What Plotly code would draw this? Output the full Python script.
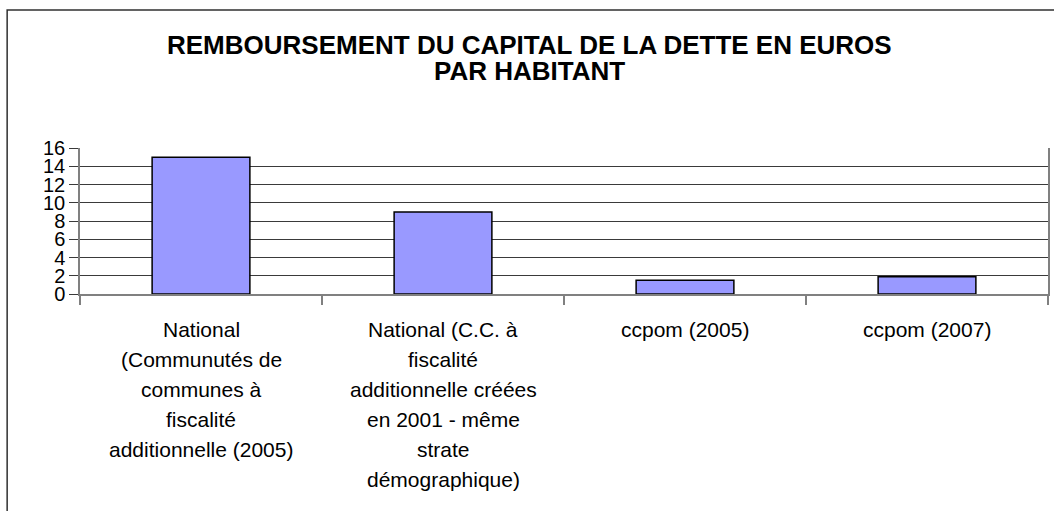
import plotly.graph_objects as go

# Remboursement du capital de la dette (euros par habitant)
category_lines = [
    ["National", "(Communutés de", "communes à", "fiscalité", "additionnelle (2005)"],
    ["National (C.C. à", "fiscalité", "additionnelle créées", "en 2001 - même", "strate", "démographique)"],
    ["ccpom (2005)"],
    ["ccpom (2007)"],
]
values = [15, 9, 1.5, 1.9]
title_lines = ["REMBOURSEMENT DU CAPITAL DE LA DETTE EN EUROS", "PAR HABITANT"]
y_ticks = [0, 2, 4, 6, 8, 10, 12, 14, 16]

categories = [" ".join(lines) for lines in category_lines]

W, H = 1054, 511
ML, MR, MT, MB = 80, 4, 148, 217
plot_w = W - ML - MR
plot_h = H - MT - MB

FONT = "Liberation Sans, Arial, sans-serif"
GRID = "#3a3a3a"
AXIS = "#808080"

fig = go.Figure(
    go.Bar(
        x=categories,
        y=values,
        marker=dict(color="#9999FF", line=dict(color="#000000", width=1.5)),
        hoverinfo="x+y",
    )
)

annotations = []
# multi-line category labels under each bar
for cat, lines in zip(categories, category_lines):
    for i, line in enumerate(lines):
        annotations.append(dict(
            x=cat, xref="x", y=0, yref="paper",
            text=line, showarrow=False,
            xanchor="center", yanchor="middle",
            yshift=-35 - 30 * i,
            font=dict(family=FONT, size=21, color="#000000"),
        ))

# two-line bold title
title_x = (530 - ML) / plot_w
for line, shift in zip(title_lines, [103, 77]):
    annotations.append(dict(
        x=title_x, xref="paper", y=1, yref="paper",
        text="<b>" + line + "</b>", showarrow=False,
        xanchor="center", yanchor="middle", yshift=shift,
        font=dict(family=FONT, size=26, color="#000000"),
    ))

# outer chart frame
shapes = [dict(
    type="rect", xref="paper", yref="paper",
    x0=(7 - ML) / plot_w, x1=1.05,
    y0=-2.0, y1=1 + (MT - 10) / plot_h,
    line=dict(color="#303030", width=1.5),
    fillcolor="rgba(0,0,0,0)", layer="below",
)]

fig.update_layout(
    width=W, height=H,
    margin=dict(l=ML, r=MR, t=MT, b=MB),
    paper_bgcolor="white", plot_bgcolor="white",
    bargap=0.596,
    showlegend=False,
    annotations=annotations,
    shapes=shapes,
    font=dict(family=FONT, color="#000000"),
)

fig.update_xaxes(
    type="category",
    showticklabels=False,
    showgrid=False,
    showline=True, linecolor=AXIS, linewidth=1.5,
    ticks="outside", tickson="boundaries", ticklen=9, tickcolor=AXIS, tickwidth=1.5,
    range=[-0.5, 3.5],
)

fig.update_yaxes(
    range=[0, 16],
    tickvals=y_ticks,
    ticktext=[str(v) for v in y_ticks],
    showgrid=True, gridcolor=GRID, gridwidth=1,
    zeroline=False,
    showline=True, linecolor=AXIS, linewidth=1.5, mirror=True,
    ticks="outside", ticklen=9, tickcolor=GRID, tickwidth=1,
    tickfont=dict(family=FONT, size=20, color="#000000"),
)

fig.write_html("out.html")
